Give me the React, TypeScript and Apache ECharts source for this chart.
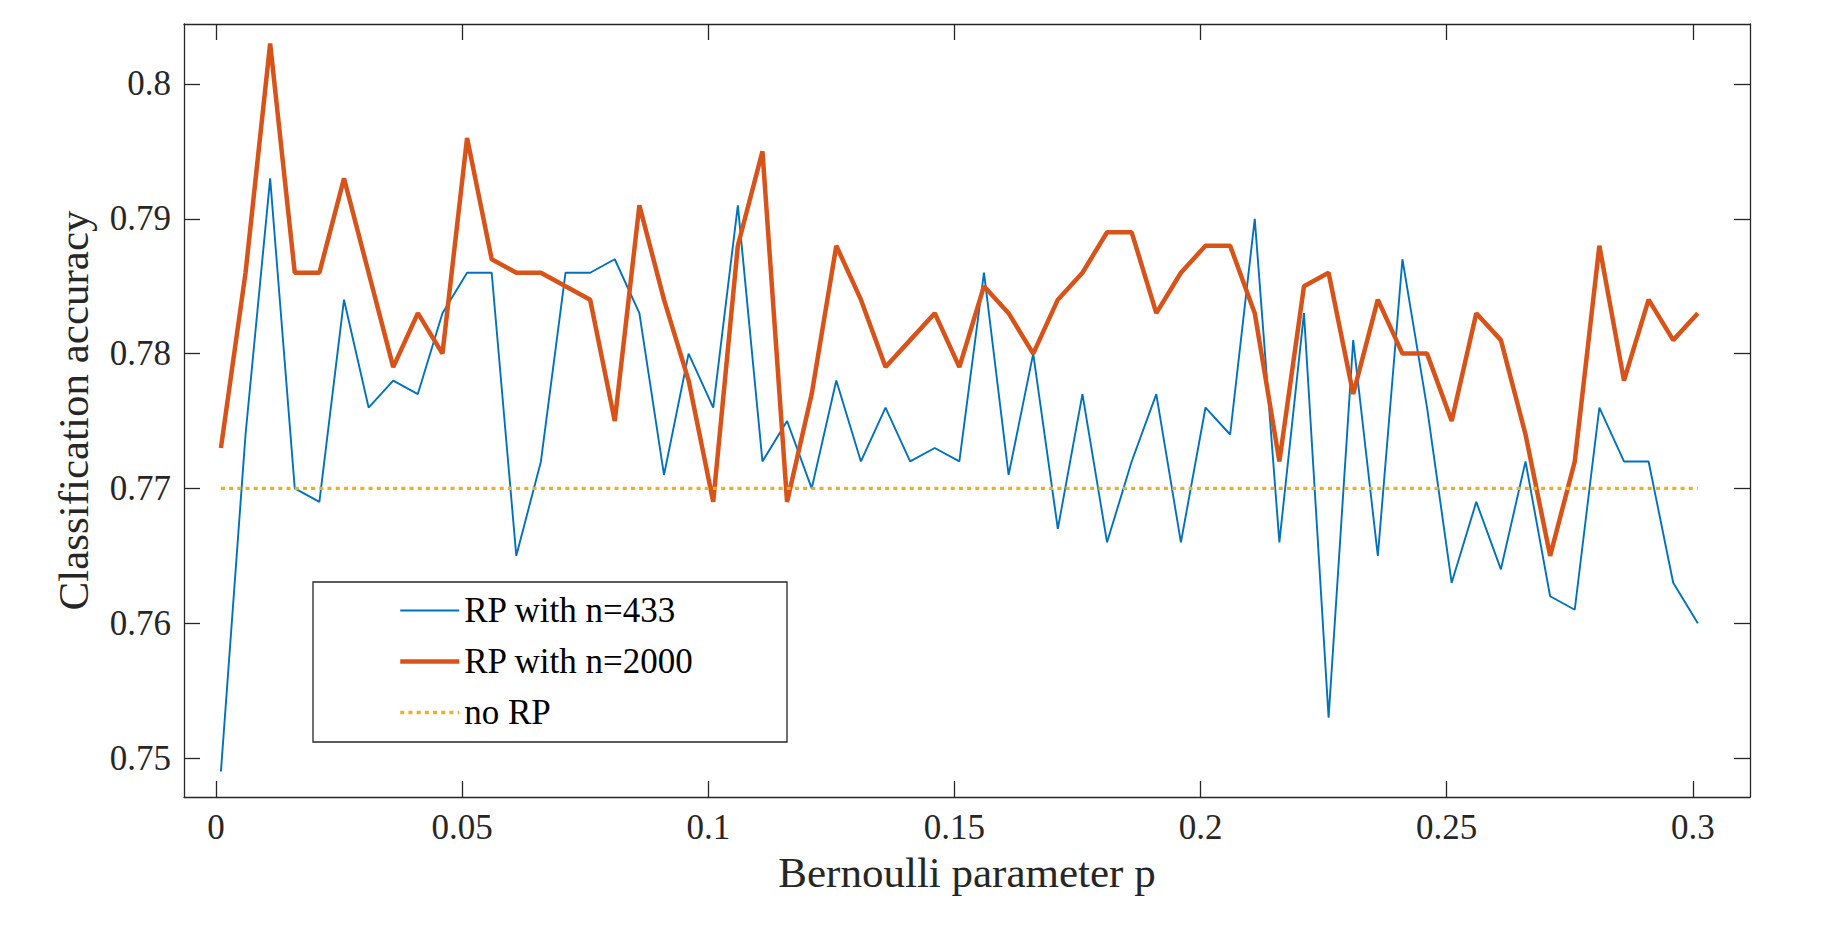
import React, { useEffect, useRef } from "react";
import * as echarts from "echarts";

const pValues = [
  0.001, 0.006, 0.011, 0.016, 0.021, 0.026, 0.031, 0.036, 0.041, 0.046,
  0.051, 0.056, 0.061, 0.066, 0.071, 0.076, 0.081, 0.086, 0.091, 0.096,
  0.101, 0.106, 0.111, 0.116, 0.121, 0.126, 0.131, 0.136, 0.141, 0.146,
  0.151, 0.156, 0.161, 0.166, 0.171, 0.176, 0.181, 0.186, 0.191, 0.196,
  0.201, 0.206, 0.211, 0.216, 0.221, 0.226, 0.231, 0.236, 0.241, 0.246,
  0.251, 0.256, 0.261, 0.266, 0.271, 0.276, 0.281, 0.286, 0.291, 0.296,
  0.301,
];

const rp433 = [
  0.749, 0.774, 0.793, 0.770, 0.769, 0.784, 0.776, 0.778, 0.777, 0.783,
  0.786, 0.786, 0.765, 0.772, 0.786, 0.786, 0.787, 0.783, 0.771, 0.780,
  0.776, 0.791, 0.772, 0.775, 0.770, 0.778, 0.772, 0.776, 0.772, 0.773,
  0.772, 0.786, 0.771, 0.780, 0.767, 0.777, 0.766, 0.772, 0.777, 0.766,
  0.776, 0.774, 0.790, 0.766, 0.783, 0.753, 0.781, 0.765, 0.787, 0.776,
  0.763, 0.769, 0.764, 0.772, 0.762, 0.761, 0.776, 0.772, 0.772, 0.763,
  0.760,
];

const rp2000 = [
  0.773, 0.786, 0.803, 0.786, 0.786, 0.793, 0.786, 0.779, 0.783, 0.780,
  0.796, 0.787, 0.786, 0.786, 0.785, 0.784, 0.775, 0.791, 0.784, 0.778,
  0.769, 0.788, 0.795, 0.769, 0.777, 0.788, 0.784, 0.779, 0.781, 0.783,
  0.779, 0.785, 0.783, 0.780, 0.784, 0.786, 0.789, 0.789, 0.783, 0.786,
  0.788, 0.788, 0.783, 0.772, 0.785, 0.786, 0.777, 0.784, 0.780, 0.780,
  0.775, 0.783, 0.781, 0.774, 0.765, 0.772, 0.788, 0.778, 0.784, 0.781,
  0.783,
];

const noRP = [
  0.77, 0.77, 0.77, 0.77, 0.77, 0.77, 0.77, 0.77, 0.77, 0.77,
  0.77, 0.77, 0.77, 0.77, 0.77, 0.77, 0.77, 0.77, 0.77, 0.77,
  0.77, 0.77, 0.77, 0.77, 0.77, 0.77, 0.77, 0.77, 0.77, 0.77,
  0.77, 0.77, 0.77, 0.77, 0.77, 0.77, 0.77, 0.77, 0.77, 0.77,
  0.77, 0.77, 0.77, 0.77, 0.77, 0.77, 0.77, 0.77, 0.77, 0.77,
  0.77, 0.77, 0.77, 0.77, 0.77, 0.77, 0.77, 0.77, 0.77, 0.77,
  0.77,
];

const xTicks = [0, 0.05, 0.1, 0.15, 0.2, 0.25, 0.3];
const yTicks = [0.75, 0.76, 0.77, 0.78, 0.79, 0.8];

const seriesNames = ["RP with n=433", "RP with n=2000", "no RP"];
const seriesColors = ["#0072BD", "#D95319", "#EDB120"];
const xTitle = "Bernoulli parameter p";
const yTitle = "Classification accuracy";

const FONT = "Liberation Serif, DejaVu Serif, serif";
const AXIS_COLOR = "#262626";

const pairs = (ys: number[]) => pValues.map((p, i) => [p, ys[i]]);

export default function App() {
  const ref = useRef<HTMLDivElement>(null);

  useEffect(() => {
    if (!ref.current) return;
    const chart = echarts.init(ref.current, undefined, { renderer: "svg" });

    const xRange = { min: -0.0065, max: 0.3116 };
    const yRange = { min: 0.74711, max: 0.80445 };
    const fmt = (v: number) => String(+Number(v).toFixed(3));

    const axisLine = { show: true, onZero: false, lineStyle: { color: AXIS_COLOR, width: 1.3 } };
    const tickInside = (vals: number[]) => ({
      show: true,
      inside: true,
      length: 16,
      customValues: vals,
      lineStyle: { color: AXIS_COLOR, width: 1.3 },
    });

    const lineStyles = [
      { color: seriesColors[0], width: 1.9 },
      { color: seriesColors[1], width: 4.5 },
      { color: seriesColors[2], width: 3.4, type: [4, 4.2] },
    ];

    chart.setOption({
      animation: false,
      backgroundColor: "#ffffff",
      grid: { left: 184, top: 24, width: 1566, height: 773, containLabel: false },
      xAxis: [
        {
          type: "value",
          position: "bottom",
          ...xRange,
          axisLine,
          axisTick: tickInside(xTicks),
          splitLine: { show: false },
          axisLabel: {
            customValues: xTicks,
            formatter: fmt,
            margin: 13,
            fontFamily: FONT,
            fontSize: 35,
            color: AXIS_COLOR,
          },
          name: xTitle,
          nameLocation: "middle",
          nameGap: 54,
          nameTextStyle: { fontFamily: FONT, fontSize: 43, color: AXIS_COLOR },
        },
        {
          type: "value",
          position: "top",
          ...xRange,
          axisLine,
          axisTick: tickInside(xTicks),
          splitLine: { show: false },
          axisLabel: { show: false },
        },
      ],
      yAxis: [
        {
          type: "value",
          position: "left",
          ...yRange,
          axisLine,
          axisTick: tickInside(yTicks),
          splitLine: { show: false },
          axisLabel: {
            customValues: yTicks,
            formatter: fmt,
            margin: 13,
            fontFamily: FONT,
            fontSize: 35,
            color: AXIS_COLOR,
          },
          name: yTitle,
          nameLocation: "middle",
          nameGap: 89,
          nameTextStyle: { fontFamily: FONT, fontSize: 43, color: AXIS_COLOR },
        },
        {
          type: "value",
          position: "right",
          ...yRange,
          axisLine,
          axisTick: tickInside(yTicks),
          splitLine: { show: false },
          axisLabel: { show: false },
        },
      ],
      legend: {
        orient: "vertical",
        left: 398,
        top: 585,
        padding: 0,
        itemGap: 0,
        itemWidth: 59,
        itemHeight: 14,
        selectedMode: false,
        itemStyle: { opacity: 0 },
        data: seriesNames.map((name, i) => ({
          name,
          itemStyle: { opacity: 0 },
          lineStyle: { ...lineStyles[i], opacity: 1 },
        })),
        textStyle: {
          fontFamily: FONT,
          fontSize: 35,
          lineHeight: 51,
          color: "#000000",
          padding: [0, 0, 0, 0],
        },
      },
      graphic: [
        {
          type: "rect",
          shape: { x: 313, y: 582, width: 474, height: 160 },
          style: { fill: "none", stroke: AXIS_COLOR, lineWidth: 1.3 },
          z: 0,
          silent: true,
        },
      ],
      series: [
        {
          name: seriesNames[0],
          type: "line",
          symbol: "none",
          data: pairs(rp433),
          lineStyle: lineStyles[0],
          itemStyle: { color: seriesColors[0] },
          z: 3,
        },
        {
          name: seriesNames[1],
          type: "line",
          symbol: "none",
          data: pairs(rp2000),
          lineStyle: lineStyles[1],
          itemStyle: { color: seriesColors[1] },
          z: 4,
        },
        {
          name: seriesNames[2],
          type: "line",
          symbol: "none",
          data: pairs(noRP),
          lineStyle: lineStyles[2],
          itemStyle: { color: seriesColors[2] },
          z: 5,
        },
      ],
    });

    return () => chart.dispose();
  }, []);

  return (
    <div
      ref={ref}
      style={{ position: "fixed", left: 0, top: 0, width: 1824, height: 934, background: "#fff" }}
    />
  );
}
